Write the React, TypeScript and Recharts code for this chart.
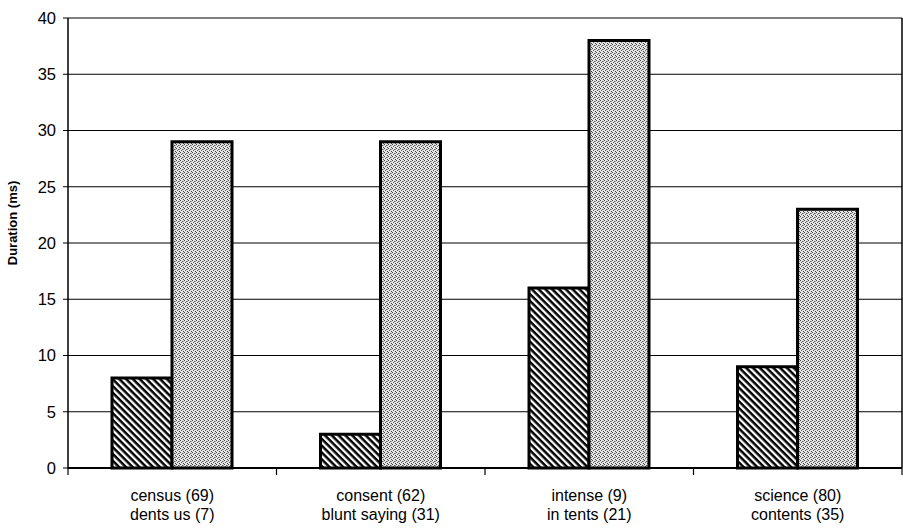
import React from 'react';
import { BarChart, Bar, XAxis, YAxis, CartesianGrid } from 'recharts';

const wordLabels = ['census (69)', 'consent (62)', 'intense (9)', 'science (80)'];
const phraseLabels = ['dents us (7)', 'blunt saying (31)', 'in tents (21)', 'contents (35)'];
const hatchedValues = [8, 3, 16, 9];
const dottedValues = [29, 29, 38, 23];
const yTicks = [0, 5, 10, 15, 20, 25, 30, 35, 40];

const data = wordLabels.map((w, i) => ({
  name: w,
  second: phraseLabels[i],
  hatched: hatchedValues[i],
  dotted: dottedValues[i],
}));

const CHART_W = 903;
const Y_AXIS_W = 68;
const RIGHT_W = 1;
const FONT = 'Arial, "Liberation Sans", sans-serif';

const XTick = (props: any) => {
  const { x, y, payload, index } = props;
  const half =
    payload && typeof payload.offset === 'number' && payload.offset > 0
      ? payload.offset
      : (CHART_W - Y_AXIS_W - RIGHT_W) / wordLabels.length / 2;
  const isLast = index === wordLabels.length - 1;
  return (
    <g transform={`translate(${x},${y})`}>
      <line x1={-half} x2={-half} y1={-2} y2={5} stroke="#000" strokeWidth={1.2} />
      {isLast && <line x1={half} x2={half} y1={-2} y2={5} stroke="#000" strokeWidth={1.2} />}
      <text textAnchor="middle" fontFamily={FONT} fontSize={16} fill="#000">
        <tspan x={0} dy={31}>{payload.value}</tspan>
        <tspan x={0} dy={18.5}>{phraseLabels[index]}</tspan>
      </text>
    </g>
  );
};

export default function App() {
  return (
    <div style={{ position: 'absolute', left: 0, top: 0 }}>
      <BarChart
        width={CHART_W}
        height={528}
        data={data}
        margin={{ top: 18, right: 0, bottom: 0, left: 0 }}
        barGap={0}
      >
        <defs>
          <pattern id="hatch" patternUnits="userSpaceOnUse" width="4.8" height="4.8" patternTransform="rotate(45)">
            <rect x="0" y="0" width="4.8" height="4.8" fill="#fff" />
            <rect x="0" y="0" width="4.8" height="2.5" fill="#000" />
          </pattern>
          <pattern id="dots" patternUnits="userSpaceOnUse" width="4" height="4">
            <rect x="0" y="0" width="4" height="4" fill="#e4e4e4" />
            <rect x="0" y="0" width="1" height="1" fill="#444" />
            <rect x="2" y="1" width="1" height="1" fill="#555" />
            <rect x="1" y="2" width="1" height="1" fill="#666" />
            <rect x="3" y="3" width="1" height="1" fill="#444" />
            <rect x="3" y="1" width="1" height="1" fill="#999" />
          </pattern>
        </defs>
        <CartesianGrid vertical={false} stroke="#000" strokeWidth={1} />
        <XAxis
          dataKey="name"
          tick={<XTick />}
          tickLine={false}
          tickSize={0}
          tickMargin={2}
          axisLine={{ stroke: '#000', strokeWidth: 2 }}
          height={60}
          interval={0}
        />
        <YAxis
          domain={[0, 40]}
          ticks={yTicks}
          interval={0}
          width={Y_AXIS_W}
          tickSize={5}
          tickMargin={7}
          tick={{ fontFamily: FONT, fontSize: 16.5, fill: '#000' }}
          tickLine={{ stroke: '#000', strokeWidth: 1 }}
          axisLine={{ stroke: '#000', strokeWidth: 1.5 }}
          label={{
            value: 'Duration (ms)',
            angle: -90,
            position: 'center',
            dx: -22,
            dy: -20,
            style: { fontFamily: FONT, fontSize: 13, fontWeight: 'bold', fill: '#000', textAnchor: 'middle' },
          }}
        />
        <YAxis
          yAxisId="r"
          orientation="right"
          domain={[0, 40]}
          width={RIGHT_W}
          tick={false}
          tickLine={false}
          axisLine={{ stroke: '#000', strokeWidth: 1.5 }}
        />
        <Bar dataKey="hatched" barSize={60} fill="url(#hatch)" stroke="#000" strokeWidth={3} isAnimationActive={false} />
        <Bar dataKey="dotted" barSize={60} fill="url(#dots)" stroke="#000" strokeWidth={3} isAnimationActive={false} />
      </BarChart>
    </div>
  );
}
